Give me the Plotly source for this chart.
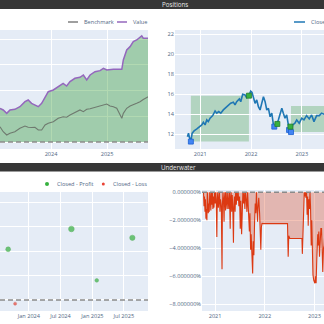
import plotly.graph_objects as go

# ---------------- data ----------------
# Portfolio value vs benchmark (top-left)
value_dates = ["2023-02-02", "2023-02-23", "2023-03-18", "2023-04-08", "2023-05-10", "2023-06-12",
               "2023-07-15", "2023-08-05", "2023-08-27", "2023-09-18", "2023-10-10", "2023-11-01",
               "2023-11-23", "2023-12-14", "2024-01-16", "2024-02-17", "2024-03-20", "2024-04-12",
               "2024-05-04", "2024-06-05", "2024-07-08", "2024-07-30", "2024-08-21", "2024-09-12",
               "2024-10-14", "2024-11-16", "2024-12-08", "2024-12-30", "2025-01-20", "2025-02-11",
               "2025-03-05", "2025-03-27", "2025-04-07", "2025-04-17", "2025-05-09", "2025-05-31",
               "2025-06-21", "2025-07-13", "2025-08-04", "2025-08-15", "2025-08-25", "2025-09-27"]
value = [165.6, 162.3, 155.8, 162.3, 163.6, 168.7, 178.4, 181.7, 175.3, 172.0, 168.7, 175.3,
         188.2, 197.9, 201.2, 207.6, 214.2, 209.0, 217.4, 224.0, 225.9, 230.4, 220.7, 230.4,
         236.8, 238.8, 243.4, 240.1, 241.5, 241.5, 241.5, 241.5, 241.5, 259.6, 279.0, 285.5,
         295.2, 298.5, 304.9, 306.3, 301.8, 301.8]
benchmark = [129.8, 120.0, 113.6, 116.9, 120.0, 126.7, 131.1, 128.6, 128.2, 128.6, 123.4, 123.4,
             133.1, 136.4, 139.5, 146.1, 149.2, 148.1, 152.5, 157.0, 162.3, 159.0, 163.6, 164.6,
             167.1, 169.1, 172.0, 173.9, 170.0, 168.7, 165.6, 152.5, 146.1, 155.8, 165.6, 170.0,
             172.0, 175.3, 178.4, 181.7, 182.7, 188.2]
init_value = 100

# Close price with positions (top-right)
close_dates = ["2020-10-01", "2020-10-09", "2020-10-16", "2020-10-26", "2020-11-04", "2020-11-18",
               "2020-12-08", "2020-12-26", "2021-01-12", "2021-01-24", "2021-02-05", "2021-02-17",
               "2021-02-28", "2021-03-13", "2021-04-01", "2021-04-18", "2021-04-30", "2021-05-14",
               "2021-05-29", "2021-06-16", "2021-07-06", "2021-07-22", "2021-08-08", "2021-08-27",
               "2021-09-08", "2021-09-20", "2021-10-09", "2021-10-19", "2021-11-02", "2021-11-19",
               "2021-12-01", "2021-12-16", "2021-12-30", "2022-01-08", "2022-01-18", "2022-01-30",
               "2022-02-11", "2022-02-23", "2022-03-07", "2022-03-19", "2022-03-31", "2022-04-12",
               "2022-04-24", "2022-05-06", "2022-05-18", "2022-05-30", "2022-06-11", "2022-06-23",
               "2022-07-05", "2022-07-16", "2022-07-29", "2022-08-10", "2022-08-21", "2022-09-02",
               "2022-09-14", "2022-09-25", "2022-10-02", "2022-10-15", "2022-10-27", "2022-11-12",
               "2022-11-25", "2022-12-13", "2022-12-31", "2023-01-16", "2023-02-04", "2023-02-23",
               "2023-03-12", "2023-03-29", "2023-04-17", "2023-05-06", "2023-05-23", "2023-06-08",
               "2023-07-10", "2023-08-10"]
close = [11.76, 12.10, 11.66, 11.35, 12.10, 12.33, 12.53, 12.76, 12.93, 13.20, 12.93, 13.43,
         13.26, 13.60, 13.86, 14.32, 14.10, 14.26, 14.10, 14.43, 14.66, 14.93, 15.10, 15.20,
         14.93, 15.25, 15.52, 15.25, 15.99, 15.92, 15.65, 15.85, 16.30, 16.18, 15.75, 15.09,
         15.42, 14.75, 14.42, 15.09, 15.75, 15.25, 14.42, 14.59, 13.75, 14.10, 12.93, 12.76,
         13.00, 13.43, 13.93, 14.60, 14.10, 13.60, 13.93, 12.93, 12.43, 12.33, 12.93, 13.10,
         13.43, 13.10, 13.60, 13.43, 13.86, 13.53, 13.93, 13.26, 13.86, 13.86, 14.10, 14.00,
         14.30, 14.60]
entry_dates = ["2020-10-26", "2022-06-17", "2022-10-01", "2022-10-15"]
entry_prices = [11.27, 12.76, 12.43, 12.22]
exit_dates = ["2021-12-17", "2022-07-09", "2022-10-11"]
exit_prices = [15.85, 13.03, 12.76]
open_last_price = 14.82

# Closed trade returns, % (bottom-left)
pnl_dates = ["2023-09-04", "2023-10-14", "2024-09-02", "2025-01-26", "2025-08-19"]
pnl_returns = [20.7, -1.5, 29.0, 8.0, 25.4]

# Drawdown, % (bottom-right)
dd_dates = ["2020-10-08", "2020-10-12", "2020-10-15", "2020-10-19", "2020-10-22", "2020-10-26",
            "2020-10-29", "2020-11-02", "2020-11-05", "2020-11-09", "2020-11-12", "2020-11-16",
            "2020-11-19", "2020-11-23", "2020-11-27", "2020-12-01", "2020-12-04", "2020-12-08",
            "2020-12-12", "2020-12-16", "2020-12-20", "2020-12-24", "2020-12-28", "2021-01-02",
            "2021-01-06", "2021-01-10", "2021-01-14", "2021-01-17", "2021-01-21", "2021-01-25",
            "2021-01-29", "2021-02-02", "2021-02-06", "2021-02-10", "2021-02-16", "2021-02-21",
            "2021-02-24", "2021-02-28", "2021-03-04", "2021-03-08", "2021-03-11", "2021-03-15",
            "2021-03-19", "2021-03-23", "2021-03-27", "2021-03-31", "2021-04-04", "2021-04-08",
            "2021-04-12", "2021-04-17", "2021-04-22", "2021-04-25", "2021-04-29", "2021-05-03",
            "2021-05-07", "2021-05-11", "2021-05-16", "2021-05-19", "2021-05-23", "2021-05-28",
            "2021-06-01", "2021-06-06", "2021-06-10", "2021-06-15", "2021-06-20", "2021-06-25",
            "2021-06-30", "2021-07-05", "2021-07-09", "2021-07-15", "2021-07-19", "2021-07-24",
            "2021-07-29", "2021-08-03", "2021-08-08", "2021-08-13", "2021-08-18", "2021-08-23",
            "2021-08-28", "2021-09-02", "2021-09-06", "2021-09-10", "2021-09-14", "2021-09-19",
            "2021-09-23", "2021-09-27", "2021-10-04", "2021-10-08", "2021-10-13", "2021-10-18",
            "2021-10-23", "2021-10-27", "2021-11-01", "2021-11-05", "2021-11-09", "2021-11-13",
            "2021-11-18", "2021-11-24", "2021-11-29", "2021-12-03", "2021-12-07", "2021-12-12",
            "2021-12-17", "2022-06-17", "2022-06-22", "2022-06-26", "2022-07-04", "2022-07-09",
            "2022-10-01", "2022-10-04", "2022-10-09", "2022-10-14", "2022-10-18", "2022-10-22",
            "2022-10-27", "2022-10-31", "2022-11-04", "2022-11-08", "2022-11-12", "2022-11-16",
            "2022-11-20", "2022-11-25", "2022-11-29", "2022-12-03", "2022-12-08", "2022-12-12",
            "2022-12-16", "2022-12-21", "2022-12-27", "2023-01-04", "2023-01-09", "2023-01-13",
            "2023-01-18", "2023-01-21", "2023-01-25", "2023-01-28", "2023-02-02", "2023-02-07",
            "2023-02-12", "2023-02-17", "2023-02-22", "2023-02-27", "2023-03-03", "2023-03-08",
            "2023-03-13", "2023-03-20", "2023-03-30"]
drawdown = [0.0, -1.0, -0.3, -1.4, -0.5, -1.9, -1.2, -2.0, 0.0, -0.6, -1.5, -0.8,
            -1.4, 0.0, -0.5, -1.3, 0.0, -0.9, 0.0, -1.2, -0.3, -1.1, 0.0, -0.8,
            0.0, -0.9, -3.2, -0.5, 0.0, -1.1, -0.3, 0.0, -1.4, -0.5, -1.0, -5.5,
            -0.9, 0.0, -0.6, -2.1, -0.4, 0.0, -1.3, 0.0, -0.7, -1.2, 0.0, -0.5,
            -1.2, 0.0, -2.6, -0.4, 0.0, -1.4, -0.2, -1.0, -3.6, -1.2, -0.3, -1.4,
            0.0, -0.9, 0.0, -0.6, 0.0, -1.0, -0.3, -2.6, -0.6, -3.0, -1.0, 0.0,
            -0.8, 0.0, -1.2, 0.0, -0.5, -1.4, 0.0, -0.8, -1.6, -2.8, -1.5, -4.1,
            -3.0, -4.9, -5.8, -3.5, -4.5, -2.2, -0.8, -1.5, 0.0, -1.2, -2.1, -1.0,
            -0.4, -1.5, -2.6, -4.1, -2.5, -2.2, -2.24, -2.24, -4.6, -3.1, -3.3, -3.3,
            -3.3, -4.4, -2.6, -1.0, 0.0, -0.3, 0.0, -0.4, 0.0, -1.6, -0.3, -2.4,
            -0.5, -1.2, 0.0, -1.0, -3.8, -2.0, -4.5, -5.9, -6.3, -6.5, -6.0, -6.5,
            -4.8, -3.8, -3.0, -3.8, -2.8, -4.6, -3.0, -2.6, -2.6, -4.0, -5.7, -4.0,
            -3.8, -2.5, -1.0]

# legend labels
legend_top_left = ["Benchmark", "Value"]
legend_top_right = ["Close"]
legend_bottom_left = ["Closed - Profit", "Closed - Loss"]

# ---------------- figure ----------------
W = H = 324
FONT = 5.6
TXT = "#506784"
PROFIT = "#37B13F"
LOSS = "#EA4335"
ENTRY = "#4285F4"
VALUE_C = "#9467bd"
BENCH_C = "#7f7f7f"
CLOSE_C = "#1f77b4"
px = lambda v: v / W
py = lambda v: 1 - v / H

fig = go.Figure()

# top-left: value vs benchmark
fig.add_trace(go.Scatter(x=value_dates, y=[init_value] * len(value_dates), mode="lines",
                         line=dict(width=0), hoverinfo="skip", xaxis="x", yaxis="y"))
fig.add_trace(go.Scatter(x=value_dates, y=value, mode="lines", name="Value",
                         line=dict(color=VALUE_C, width=1.5), fill="tonexty",
                         fillcolor="rgba(0,128,0,0.3)", xaxis="x", yaxis="y"))
fig.add_trace(go.Scatter(x=value_dates, y=benchmark, mode="lines", name="Benchmark",
                         line=dict(color="#6f7a6f", width=1.1), xaxis="x", yaxis="y"))

# top-right: close with positions
fig.add_trace(go.Scatter(x=close_dates, y=close, mode="lines", name="Close",
                         line=dict(color=CLOSE_C, width=1.6), xaxis="x2", yaxis="y2"))
fig.add_trace(go.Scatter(x=entry_dates, y=entry_prices, mode="markers", name="Entry",
                         marker=dict(symbol="square", size=5, color=ENTRY,
                                     line=dict(color="#1a5fd0", width=0.8)),
                         xaxis="x2", yaxis="y2"))
fig.add_trace(go.Scatter(x=exit_dates, y=exit_prices, mode="markers", name="Exit - Profit",
                         marker=dict(symbol="square", size=5, color=PROFIT,
                                     line=dict(color="#267a2c", width=0.8)),
                         xaxis="x2", yaxis="y2"))

# bottom-left: trade returns
prof_idx = [i for i, r in enumerate(pnl_returns) if r >= 0]
loss_idx = [i for i, r in enumerate(pnl_returns) if r < 0]
size_of = lambda r: 2.9 + 0.095 * abs(r)
fig.add_trace(go.Scatter(x=[pnl_dates[i] for i in prof_idx], y=[pnl_returns[i] for i in prof_idx],
                         mode="markers", name="Closed - Profit",
                         marker=dict(color=PROFIT, size=[size_of(pnl_returns[i]) for i in prof_idx],
                                     line=dict(color="#2e9a35", width=0.5)),
                         xaxis="x3", yaxis="y3"))
fig.add_trace(go.Scatter(x=[pnl_dates[i] for i in loss_idx], y=[pnl_returns[i] for i in loss_idx],
                         mode="markers", name="Closed - Loss",
                         marker=dict(color=LOSS, size=[size_of(pnl_returns[i]) for i in loss_idx],
                                     line=dict(color="#c8372b", width=0.5)),
                         xaxis="x3", yaxis="y3"))

# bottom-right: underwater
fig.add_trace(go.Scatter(x=dd_dates, y=[d / 100 for d in drawdown], mode="lines", name="Drawdown",
                         line=dict(color="#dc3912", width=1.1), fill="tozeroy",
                         fillcolor="rgba(220,57,18,0.3)", xaxis="x4", yaxis="y4"))

shapes = []
# position shading
rect_ends = exit_dates + [close_dates[-1]]
rect_tops = exit_prices + [open_last_price]
for x0, x1, y0, y1 in zip(entry_dates, rect_ends, entry_prices, rect_tops):
    shapes.append(dict(type="rect", xref="x2", yref="y2", x0=x0, x1=x1, y0=y0, y1=y1,
                       fillcolor="rgba(0,128,0,0.22)", line=dict(width=0), layer="below"))
# reference lines
dash = dict(color="#8a8a8a", width=1.3, dash="5px,3px")
shapes.append(dict(type="line", xref="x domain", yref="y", x0=0, x1=1, y0=init_value, y1=init_value, line=dash))
shapes.append(dict(type="line", xref="x3 domain", yref="y3", x0=0, x1=1, y0=0, y1=0, line=dash))
shapes.append(dict(type="line", xref="x4 domain", yref="y4", x0=0, x1=1, y0=0, y1=0, line=dash))
# title bands
band = "#363636"
shapes.append(dict(type="rect", xref="paper", yref="paper", x0=0, x1=1, y0=py(9), y1=1.01,
                   fillcolor=band, line=dict(width=0), layer="below"))
shapes.append(dict(type="rect", xref="paper", yref="paper", x0=0, x1=1, y0=py(171.5),
                   y1=py(163), fillcolor=band, line=dict(width=0), layer="below"))

annotations = [
    dict(text="Positions", xref="paper", yref="paper", x=px(175), y=py(4.5),
         showarrow=False, font=dict(size=6.2, color="#e8e8e8"), xanchor="center", yanchor="middle"),
    dict(text="Underwater", xref="paper", yref="paper", x=px(178), y=py(167.3),
         showarrow=False, font=dict(size=6.2, color="#e8e8e8"), xanchor="center", yanchor="middle"),
]


# hand-laid legends (symbol + label)
def legend_line(x0, x1, y, color):
    shapes.append(dict(type="line", xref="paper", yref="paper", x0=px(x0), x1=px(x1),
                       y0=py(y), y1=py(y), line=dict(color=color, width=1.5)))


def legend_dot(cx, cy, d, color):
    shapes.append(dict(type="circle", xref="paper", yref="paper", x0=px(cx - d / 2), x1=px(cx + d / 2),
                       y0=py(cy + d / 2), y1=py(cy - d / 2), fillcolor=color, line=dict(width=0)))


def legend_text(x, y, text):
    annotations.append(dict(text=text, xref="paper", yref="paper", x=px(x), y=py(y), showarrow=False,
                            xanchor="left", yanchor="middle", font=dict(size=FONT, color=TXT)))


legend_line(68, 78, 22, BENCH_C)
legend_text(82, 22, legend_top_left[0])
legend_line(117, 127, 22, VALUE_C)
legend_text(131, 22, legend_top_left[1])
legend_line(294, 305, 22, CLOSE_C)
legend_text(308.5, 22, legend_top_right[0])
legend_dot(47, 184, 4, PROFIT)
legend_text(55, 184, legend_bottom_left[0])
legend_dot(103.3, 184, 3, LOSS)
legend_text(111, 184, legend_bottom_left[1])

ax_common = dict(showline=False, zeroline=False, ticks="", tickfont=dict(size=FONT, color=TXT))
top_dom = [py(149), py(30)]

fig.update_layout(
    width=W, height=H, margin=dict(l=0, r=0, t=0, b=0, autoexpand=False),
    template="plotly",
    font=dict(family="Open Sans", size=FONT, color=TXT),
    paper_bgcolor="white",
    showlegend=False,
    shapes=shapes, annotations=annotations,
    xaxis=dict(domain=[0, px(148)], anchor="y", type="date",
               range=["2023-02-02", "2025-09-25"], dtick="M12", tick0="2024-01-01",
               tickformat="%Y", **ax_common),
    yaxis=dict(domain=top_dom, anchor="x", range=[86.4, 317.9], dtick=50, tick0=0,
               showticklabels=False, **ax_common),
    xaxis2=dict(domain=[px(175), 1], anchor="y2", type="date",
                range=["2020-07-04", "2023-06-09"], dtick="M12", tick0="2021-01-01",
                tickformat="%Y", **ax_common),
    yaxis2=dict(domain=top_dom, anchor="x2", range=[10.53, 22.4], dtick=2, tick0=0, **ax_common),
    xaxis3=dict(domain=[0, px(148)], anchor="y3", type="date",
                range=["2023-07-19", "2025-11-17"], dtick="M6", tick0="2024-01-01",
                tickformat="%b %Y", **ax_common),
    yaxis3=dict(domain=[py(311), py(192)], anchor="x3", range=[-4.5, 44.1],
                dtick=10, tick0=0, showticklabels=False, **ax_common),
    xaxis4=dict(domain=[px(202), 1], anchor="y4", type="date",
                range=["2020-09-27", "2023-03-12"], dtick="M12", tick0="2021-01-01",
                tickformat="%Y", **ax_common),
    yaxis4=dict(domain=[py(311), py(190)], anchor="x4", range=[-0.0848, 0.0016],
                dtick=0.02, tick0=0, tickformat=".6%", **ax_common),
)

fig.write_html("out.html")
